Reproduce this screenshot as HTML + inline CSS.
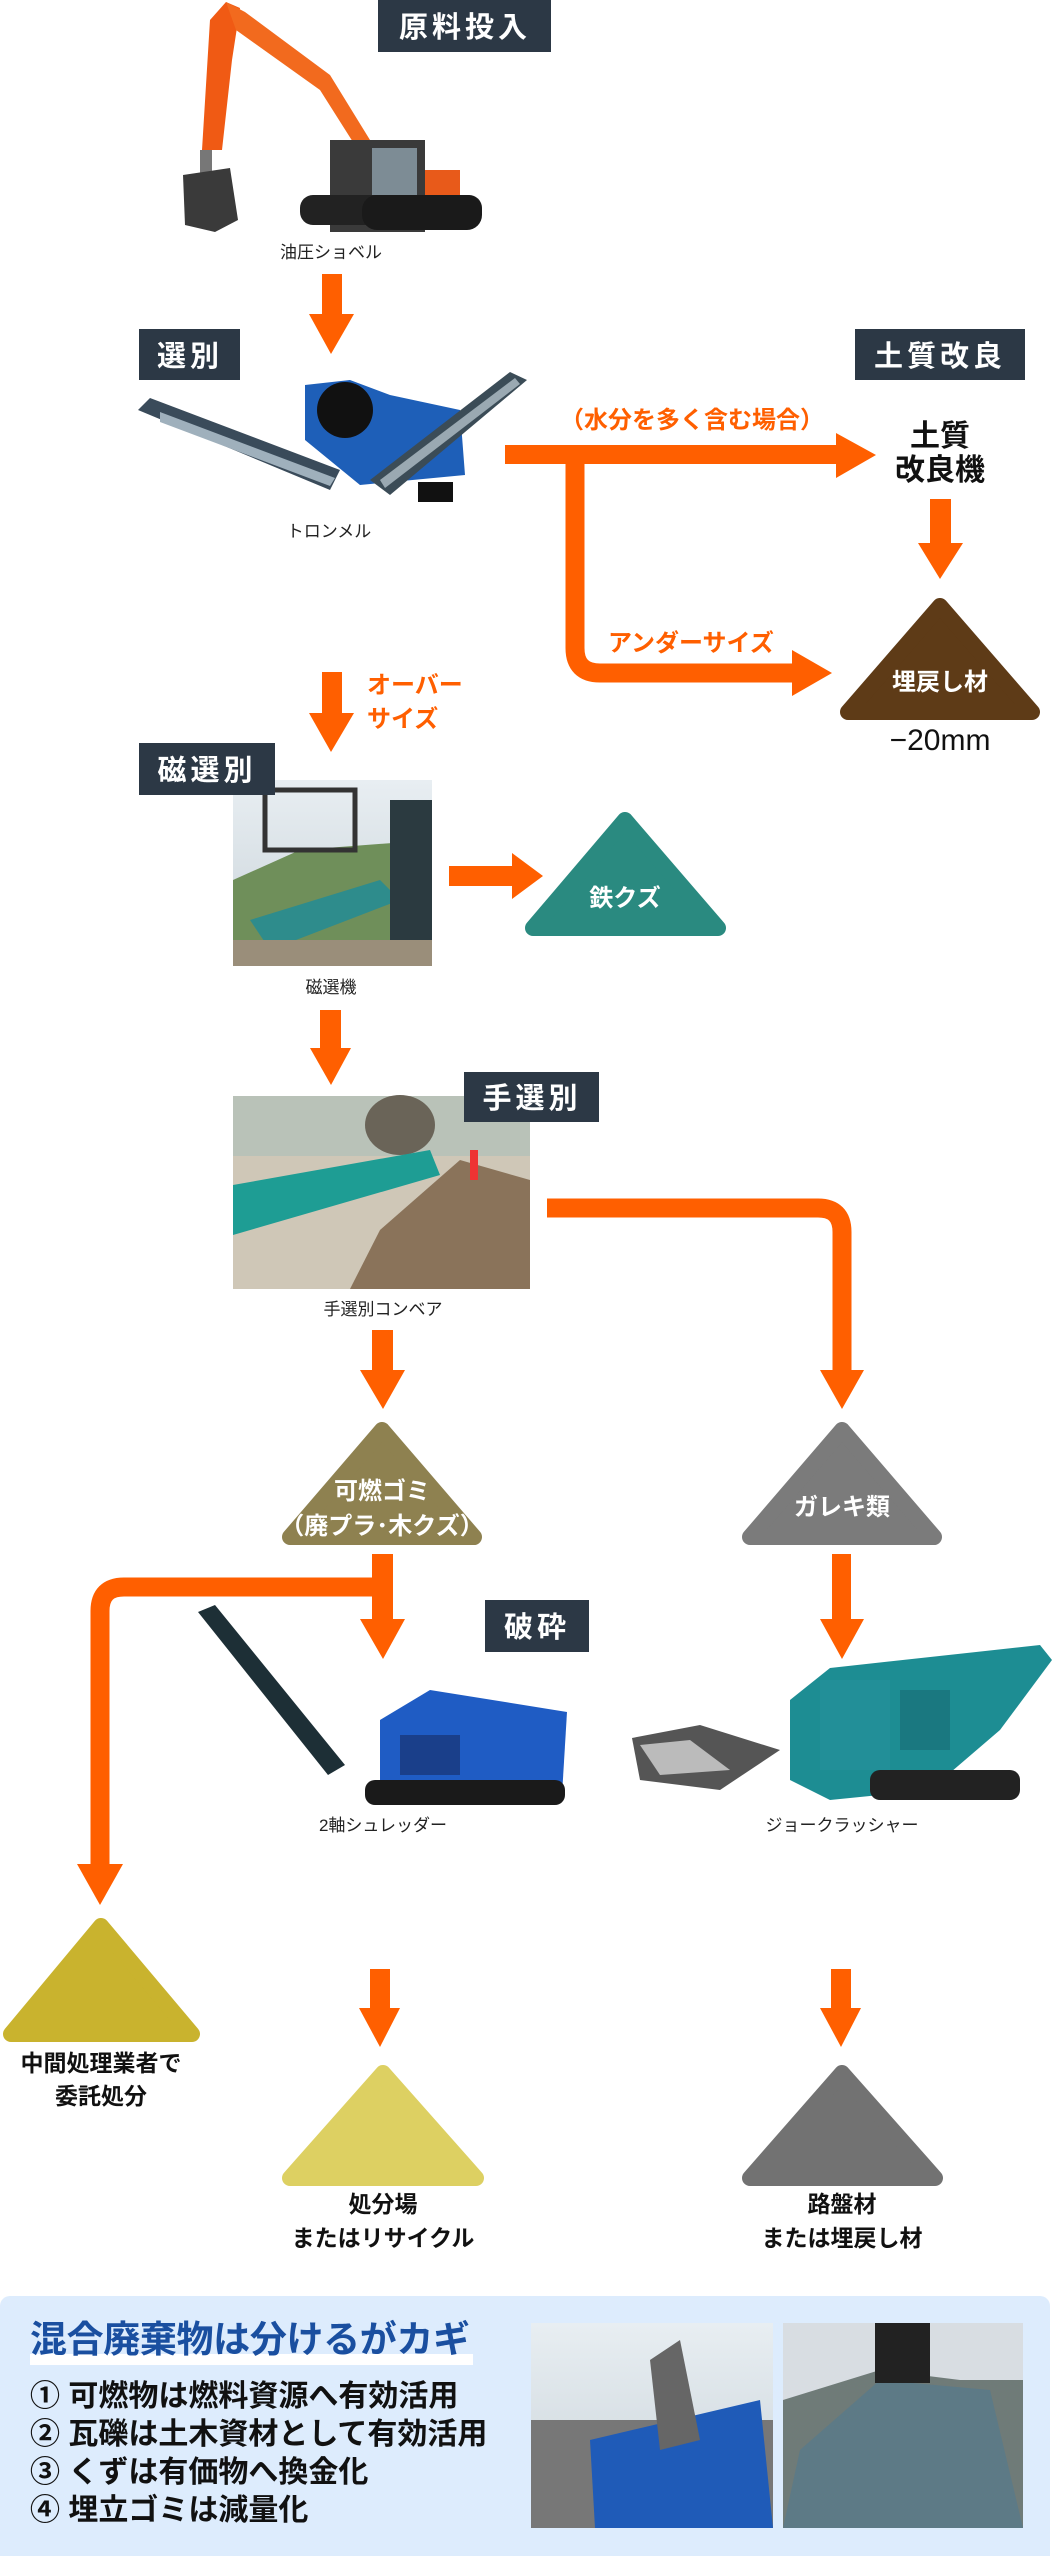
<!DOCTYPE html>
<html><head><meta charset="utf-8"><style>
html,body{margin:0;padding:0;background:#fff;}
svg{display:block;}
text{font-family:"Liberation Sans","Noto Sans CJK JP",sans-serif;font-weight:bold;}
</style></head><body>
<svg width="1052" height="2556" viewBox="0 0 1052 2556" xmlns="http://www.w3.org/2000/svg">
<defs>
<linearGradient id="sky" x1="0" y1="0" x2="0" y2="1"><stop offset="0" stop-color="#e8eef2"/><stop offset="1" stop-color="#c9d3d9"/></linearGradient>
</defs>
<rect width="1052" height="2556" fill="#fff"/>

<!-- Excavator -->
<g>
<polygon points="202,150 210,20 226,2 240,8 232,60 222,150" fill="#f05a14"/>
<polygon points="226,2 245,12 330,75 370,140 358,150 320,90 236,30" fill="#f26a1e"/>
<rect x="200" y="150" width="12" height="30" fill="#777"/>
<path d="M183,175 L230,168 L238,220 L215,232 L185,225 Z" fill="#3a3a3a"/>
<rect x="330" y="140" width="95" height="92" fill="#3a3a3a"/>
<rect x="372" y="148" width="45" height="55" fill="#7d8c95"/>
<rect x="425" y="170" width="35" height="55" fill="#e85a1a"/>
<rect x="300" y="195" width="182" height="30" rx="13" fill="#222"/>
<rect x="362" y="195" width="120" height="35" rx="15" fill="#1a1a1a"/>
</g>
<text x="331" y="258" font-size="17" text-anchor="middle" fill="#222" style="font-weight:normal">油圧ショベル</text>

<!-- Trommel -->
<g>
<polygon points="138,410 150,398 340,470 330,490" fill="#3a4b5a"/>
<polygon points="160,412 335,478 330,486 160,422" fill="#9fb0bc"/>
<polygon points="305,385 350,380 390,395 460,410 465,475 360,485 305,440" fill="#1e5fb8"/>
<ellipse cx="345" cy="410" rx="28" ry="28" fill="#111"/>
<polygon points="370,480 510,372 527,380 390,495" fill="#3b4c57"/>
<polygon points="380,480 515,378 520,384 385,488" fill="#9aa9b2"/>
<rect x="418" y="482" width="35" height="20" fill="#111"/>
</g>
<text x="329" y="537" font-size="17" text-anchor="middle" fill="#222" style="font-weight:normal">トロンメル</text>

<!-- Magnetic separator photo -->
<rect x="233" y="780" width="199" height="186" fill="url(#sky)"/>
<polygon points="233,880 300,850 432,840 432,966 233,966" fill="#6f8f5a"/>
<rect x="265" y="790" width="90" height="60" fill="none" stroke="#333" stroke-width="5"/>
<polygon points="250,920 380,880 400,900 270,950" fill="#2e8c8c"/>
<rect x="390" y="800" width="42" height="166" fill="#2b3a40"/>
<rect x="233" y="940" width="199" height="26" fill="#9a8e7a"/>
<text x="331" y="993" font-size="17" text-anchor="middle" fill="#222" style="font-weight:normal">磁選機</text>

<!-- Conveyor photo -->
<rect x="233" y="1096" width="297" height="193" fill="#cfc7b7"/>
<rect x="233" y="1096" width="297" height="60" fill="#b9c2b8"/>
<ellipse cx="400" cy="1125" rx="35" ry="30" fill="#6a6458"/>
<polygon points="233,1185 430,1150 440,1175 233,1235" fill="#1e9d94"/>
<polygon points="380,1230 460,1160 530,1180 530,1289 350,1289" fill="#8a735a"/>
<rect x="470" y="1150" width="8" height="30" fill="#e33"/>
<text x="383" y="1315" font-size="17" text-anchor="middle" fill="#222" style="font-weight:normal">手選別コンベア</text>

<!-- Shredder -->
<g>
<polygon points="198,1612 215,1605 345,1765 328,1775" fill="#1d2f36"/>
<polygon points="380,1720 430,1690 567,1712 562,1795 380,1795" fill="#1f5cc4"/>
<rect x="365" y="1780" width="200" height="25" rx="10" fill="#1a1a1a"/>
<rect x="400" y="1735" width="60" height="40" fill="#1a3f8a"/>
</g>
<text x="383" y="1831" font-size="17" text-anchor="middle" fill="#222" style="font-weight:normal">2軸シュレッダー</text>

<!-- Jaw crusher -->
<g>
<polygon points="632,1738 700,1725 780,1750 720,1790 640,1780" fill="#555"/>
<polygon points="640,1745 690,1740 730,1770 660,1775" fill="#bbb"/>
<polygon points="790,1700 830,1668 1040,1645 1052,1660 1000,1730 930,1790 830,1800 790,1780" fill="#1d8d93"/>
<rect x="820" y="1680" width="70" height="90" fill="#228f98"/>
<rect x="870" y="1770" width="150" height="30" rx="10" fill="#222"/>
<rect x="900" y="1690" width="50" height="60" fill="#1a7880"/>
</g>
<text x="842" y="1831" font-size="17" text-anchor="middle" fill="#222" style="font-weight:normal">ジョークラッシャー</text>

<!-- Label boxes -->
<g fill="#2c3845">
<rect x="378" y="0" width="173" height="52"/>
<rect x="139" y="329" width="101" height="51"/>
<rect x="855" y="329" width="170" height="51"/>
<rect x="139" y="743" width="136" height="52"/>
<rect x="464" y="1072" width="135" height="50"/>
<rect x="485" y="1600" width="104" height="52"/>
</g>
<g fill="#fff" font-size="29" letter-spacing="4" text-anchor="middle">
<text x="465" y="37">原料投入</text>
<text x="190" y="366">選別</text>
<text x="940" y="366">土質改良</text>
<text x="207" y="780">磁選別</text>
<text x="532" y="1108">手選別</text>
<text x="537" y="1637">破砕</text>
</g>

<!-- Orange arrows -->
<g fill="#ff5f00">
<rect x="322" y="274" width="20" height="42"/><polygon points="309,314 354,314 331,354"/>
<rect x="505" y="445" width="335" height="19"/><polygon points="836,433 876,455 836,478"/>
<rect x="930" y="499" width="21" height="46"/><polygon points="918,543 963,543 940,579"/>
<rect x="322" y="672" width="20" height="43"/><polygon points="309,713 354,713 331,752"/>
<rect x="449" y="866" width="66" height="20"/><polygon points="512,853 543,876 512,899"/>
<rect x="320" y="1010" width="21" height="40"/><polygon points="310,1048 351,1048 331,1085"/>
<rect x="372" y="1330" width="21" height="42"/><polygon points="360,1370 405,1370 383,1409"/>
<polygon points="820,1370 864,1370 842,1409"/>
<rect x="372" y="1554" width="21" height="68"/><polygon points="360,1619 405,1619 383,1659"/>
<polygon points="77,1864 123,1864 100,1905"/>
<rect x="832" y="1554" width="19" height="68"/><polygon points="820,1619 864,1619 842,1659"/>
<rect x="370" y="1969" width="20" height="41"/><polygon points="359,2008 400,2008 380,2047"/>
<rect x="831" y="1969" width="20" height="41"/><polygon points="820,2008 861,2008 841,2047"/>
<polygon points="792,650 832,673 792,696"/>
</g>
<g fill="none" stroke="#ff5f00" stroke-width="19">
<path d="M575,455 V648 Q575,673 600,673 H800"/>
<path d="M547,1208 H818 Q842,1208 842,1232 V1375"/>
<path d="M383,1587 H124 Q100,1587 100,1611 V1868"/>
</g>
<g fill="#ff5f00" font-size="24">
<text x="560" y="428">（水分を多く含む場合）</text>
<text x="608" y="651">アンダーサイズ</text>
<text x="367" y="693">オーバー</text>
<text x="367" y="727">サイズ</text>
</g>

<text x="940" y="446" font-size="30" text-anchor="middle" fill="#111">土質</text>
<text x="940" y="480" font-size="30" text-anchor="middle" fill="#111">改良機</text>

<!-- Triangles -->
<g stroke-linejoin="round">
<path d="M940,606 L1032,712 L848,712 Z" fill="#5e3b17" stroke="#5e3b17" stroke-width="16"/>
<path d="M625,820 L718,928 L533,928 Z" fill="#2a8a80" stroke="#2a8a80" stroke-width="16"/>
<path d="M382,1430 L474,1537 L290,1537 Z" fill="#8e8150" stroke="#8e8150" stroke-width="16"/>
<path d="M842,1430 L934,1537 L750,1537 Z" fill="#7b7b7b" stroke="#7b7b7b" stroke-width="16"/>
<path d="M101,1926 L192,2034 L11,2034 Z" fill="#c9b32e" stroke="#c9b32e" stroke-width="16"/>
<path d="M383,2073 L476,2178 L290,2178 Z" fill="#ddd062" stroke="#ddd062" stroke-width="16"/>
<path d="M842,2073 L935,2178 L750,2178 Z" fill="#727272" stroke="#727272" stroke-width="16"/>
</g>
<g fill="#fff" font-size="24" text-anchor="middle">
<text x="940" y="690">埋戻し材</text>
<text x="625" y="906">鉄クズ</text>
<text x="382" y="1499">可燃ゴミ</text>
<text x="382" y="1534">（廃プラ･木クズ）</text>
<text x="842" y="1515">ガレキ類</text>
</g>
<text x="940" y="750" font-size="30" text-anchor="middle" fill="#111" style="font-weight:normal">−20mm</text>

<!-- Bottom labels -->
<g fill="#111" font-size="23" text-anchor="middle">
<text x="101" y="2071">中間処理業者で</text>
<text x="101" y="2104">委託処分</text>
<text x="383" y="2212">処分場</text>
<text x="383" y="2246">またはリサイクル</text>
<text x="842" y="2212">路盤材</text>
<text x="842" y="2246">または埋戻し材</text>
</g>

<!-- Bottom panel -->
<rect x="0" y="2296" width="1050" height="270" rx="10" fill="#ddecfd"/>
<rect x="30" y="2354" width="443" height="11" fill="#fff"/>
<text x="30" y="2352" font-size="37" fill="#1a4fa0" textLength="440">混合廃棄物は分けるがカギ</text>
<g fill="#111" font-size="30">
<text x="30" y="2406">① 可燃物は燃料資源へ有効活用</text>
<text x="30" y="2444">② 瓦礫は土木資材として有効活用</text>
<text x="30" y="2482">③ くずは有価物へ換金化</text>
<text x="30" y="2520">④ 埋立ゴミは減量化</text>
</g>
<rect x="531" y="2323" width="242" height="205" fill="url(#sky)"/>
<rect x="531" y="2420" width="242" height="108" fill="#777"/>
<polygon points="590,2440 760,2400 773,2528 595,2528" fill="#1f5bb8"/>
<polygon points="650,2360 680,2340 700,2440 660,2450" fill="#666"/>
<rect x="783" y="2323" width="240" height="205" fill="#d8dde2"/>
<polygon points="783,2400 880,2370 960,2380 1023,2380 1023,2528 783,2528" fill="#6f7b78"/>
<polygon points="800,2450 880,2380 990,2390 1023,2528 783,2528" fill="#5d7a86"/>
<rect x="875" y="2323" width="55" height="60" fill="#222"/>
</svg>
</body></html>
